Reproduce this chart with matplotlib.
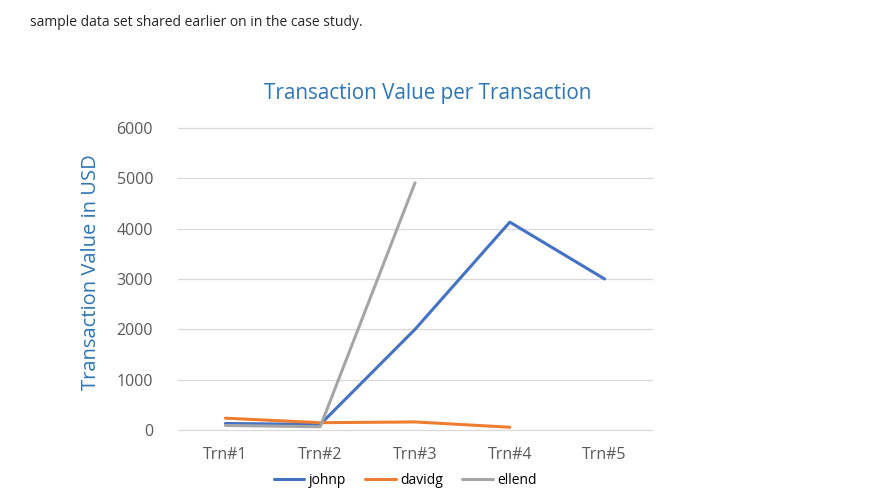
import matplotlib.pyplot as plt

categories = ["Trn#1", "Trn#2", "Trn#3", "Trn#4", "Trn#5"]
johnp = [130, 110, 2000, 4130, 3000]
davidg = [235, 145, 160, 55, None]
ellend = [90, 65, 4910, None, None]

plt.rcParams["font.family"] = ["Open Sans", "DejaVu Sans"]

fig = plt.figure(figsize=(8.7, 5), dpi=100)
ax = fig.add_axes([178 / 870, 1 - 430 / 500, (652 - 178) / 870, (430 - 128) / 500])

x = list(range(len(categories)))
series = [("johnp", johnp, "#4472C4"), ("davidg", davidg, "#ED7D31"), ("ellend", ellend, "#A5A5A5")]
for name, vals, col in series:
    xs = [i for i, v in zip(x, vals) if v is not None]
    ys = [v for v in vals if v is not None]
    ax.plot(xs, ys, color=col, linewidth=2.2, label=name, solid_capstyle="round")

ax.set_xlim(-0.5, len(categories) - 0.5)
ax.set_ylim(0, 6000)
ax.set_yticks(range(0, 6001, 1000))
ax.set_xticks(x)
ax.set_xticklabels(categories)
ax.tick_params(length=0, labelsize=11.5, colors="#595959", pad=12)
ax.tick_params(axis="y", pad=18)
ax.grid(axis="y", color="#D9D9D9", linewidth=0.9)
for gl in ax.get_ygridlines():
    gl.set_clip_on(False)
ax.set_axisbelow(True)
for s in ax.spines.values():
    s.set_visible(False)

ax.set_ylabel("Transaction Value in USD", color="#2E75B6", fontsize=14.5)
ax.yaxis.set_label_coords(-(178 - 101) / 474, 0.522)
fig.text(428 / 870, 1 - 94 / 500, "Transaction Value per Transaction",
         color="#2E75B6", fontsize=14.9, ha="center", va="center")
fig.text(30 / 870, 1 - 23 / 500, "sample data set shared earlier on in the case study.",
         color="#262626", fontsize=10, ha="left", va="center")

fig.legend(loc="center", bbox_to_anchor=(405 / 870, 1 - 480 / 500), ncol=3, frameon=False,
           fontsize=10, handlelength=2.2, columnspacing=1.4, handletextpad=0.3)

fig.savefig("out.png", dpi=100)
